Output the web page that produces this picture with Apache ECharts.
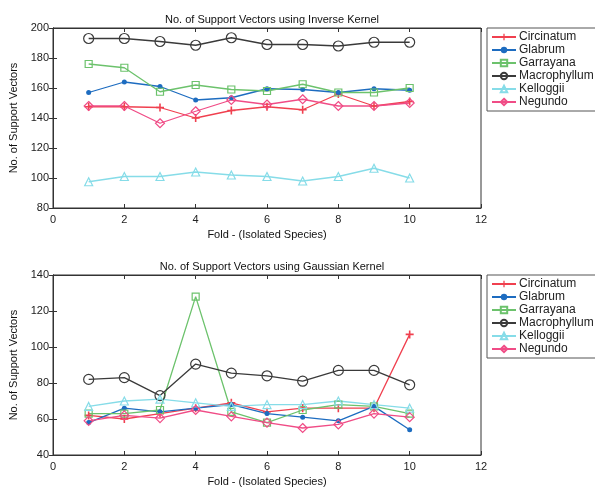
<!DOCTYPE html>
<html><head><meta charset="utf-8">
<script src="https://cdn.jsdelivr.net/npm/echarts@6/dist/echarts.min.js"></script>
<style>html,body{margin:0;padding:0;background:#fff}#c{width:595px;height:491px}</style>
</head><body><div id="c"></div>
<script>
const folds = [1,2,3,4,5,6,7,8,9,10];
const speciesNames = ['Circinatum','Glabrum','Garrayana','Macrophyllum','Kelloggii','Negundo'];
// Inverse kernel
const invCircinatum   = [147.5,147.5,147,140,145,147.5,145.5,156,148,151];
const invGlabrum      = [157,164,161,152,153.5,159.5,159,157,159.5,158.5];
const invGarrayana    = [176,173.5,157.5,162,159,158,162.5,157,157,160];
const invMacrophyllum = [193,193,191,188.5,193.5,189,189,188,190.5,190.5];
const invKelloggii    = [97.5,101,101,104,102,101,98,101,106.5,100];
const invNegundo      = [148,148,136.5,144.5,152,149,152.5,148,148,150];
// Gaussian kernel
const gauCircinatum   = [62,60,63,66,69,64,66,66,66,107];
const gauGlabrum      = [58,66,64,66,68,63,61,59,67,54];
const gauGarrayana    = [63,63,65,128,64,58,65,68,67,63];
const gauMacrophyllum = [82,83,73,90.5,85.5,84,81,87,87,79];
const gauKelloggii    = [67,70,71,69,67,68,68,70,68,66];
const gauNegundo      = [59,62,60.5,65,61.5,58,55,57,63,61];

const titles = ['No. of Support Vectors using Inverse Kernel','No. of Support Vectors using Gaussian Kernel'];
const xTitle = 'Fold - (Isolated Species)';
const yTitle = 'No. of Support Vectors';

const colors = ['#f0404f','#1d6cc0','#6cc26c','#3a3a3a','#86dce8','#f04c86'];
const plus = 'path://M4,0h2v4h4v2h-4v4h-2v-4h-4v-2h4z';
const symbols = [plus,'circle','rect','circle','triangle','diamond'];
const symSizes = [8,5,7,10,8,9];
const filled = [true,true,false,false,false,false];

const panels = [
  {top:28, ymin:80, ymax:200, data:[invCircinatum,invGlabrum,invGarrayana,invMacrophyllum,invKelloggii,invNegundo]},
  {top:275, ymin:40, ymax:140, data:[gauCircinatum,gauGlabrum,gauGarrayana,gauMacrophyllum,gauKelloggii,gauNegundo]}
];
const font = 'Liberation Sans, Arial, sans-serif';
const grids=[], xAxes=[], yAxes=[], series=[], titleArr=[], legends=[];
panels.forEach((p,i)=>{
  grids.push({left:53, width:428, top:p.top, height:180, show:true, borderColor:'#333', borderWidth:1, backgroundColor:'#fff'});
  const axLine = {show:true, lineStyle:{color:'#333'}};
  xAxes.push({gridIndex:i, type:'value', min:0, max:12, interval:2, axisLine:axLine,
    axisTick:{inside:true, length:4, lineStyle:{color:'#333'}}, splitLine:{show:false},
    axisLabel:{color:'#222', fontSize:11, fontFamily:font, margin:6},
    name:xTitle, nameLocation:'middle', nameGap:21, nameTextStyle:{color:'#111', fontSize:11, fontFamily:font}});
  xAxes.push({gridIndex:i, type:'value', position:'top', min:0, max:12, interval:2, axisLine:axLine,
    axisTick:{inside:true, length:4, lineStyle:{color:'#333'}}, axisLabel:{show:false}, splitLine:{show:false}});
  yAxes.push({gridIndex:i, type:'value', min:p.ymin, max:p.ymax, interval:20, axisLine:axLine,
    axisTick:{inside:true, length:4, lineStyle:{color:'#333'}}, splitLine:{show:false},
    axisLabel:{color:'#222', fontSize:11, fontFamily:font, margin:4},
    name:yTitle, nameLocation:'middle', nameGap:29, nameTextStyle:{color:'#111', fontSize:11, fontFamily:font}});
  yAxes.push({gridIndex:i, type:'value', position:'right', min:p.ymin, max:p.ymax, interval:20, axisLine:axLine,
    axisTick:{inside:true, length:4, lineStyle:{color:'#333'}}, axisLabel:{show:false}, splitLine:{show:false}});
  titleArr.push({text:titles[i], left:267, textAlign:'center', top:p.top-19,
    textStyle:{fontSize:11, fontWeight:'normal', color:'#111', fontFamily:font}});
  legends.push({orient:'vertical', left:487, top:p.top, itemGap:1, itemWidth:24, itemHeight:8,
    padding:[3,4,3,4], borderColor:'#555', borderWidth:1, backgroundColor:'#fff',
    textStyle:{fontSize:12, color:'#222', fontFamily:font, padding:[0,0,0,-2]},
    data:speciesNames.map(n=>({name:n})), seriesIndex: speciesNames.map((_,k)=>i*6+k)});
  p.data.forEach((vals,k)=>{
    series.push({name:speciesNames[k], type:'line', xAxisIndex:i*2, yAxisIndex:i*2,
      data:folds.map((f,j)=>[f,vals[j]]), symbol:symbols[k], symbolSize:symSizes[k],
      lineStyle:{color:colors[k], width:1.3},
      itemStyle:{color: filled[k]?colors[k]:'rgba(255,255,255,0)', borderColor:colors[k], borderWidth: filled[k]?0:1.2},
      emphasis:{disabled:true}, animation:false});
  });
});
const chart = echarts.init(document.getElementById('c'), null, {renderer:'canvas'});
chart.setOption({animation:false, backgroundColor:'#fff', title:titleArr, grid:grids, xAxis:xAxes, yAxis:yAxes, legend:legends, series:series});
</script></body></html>
